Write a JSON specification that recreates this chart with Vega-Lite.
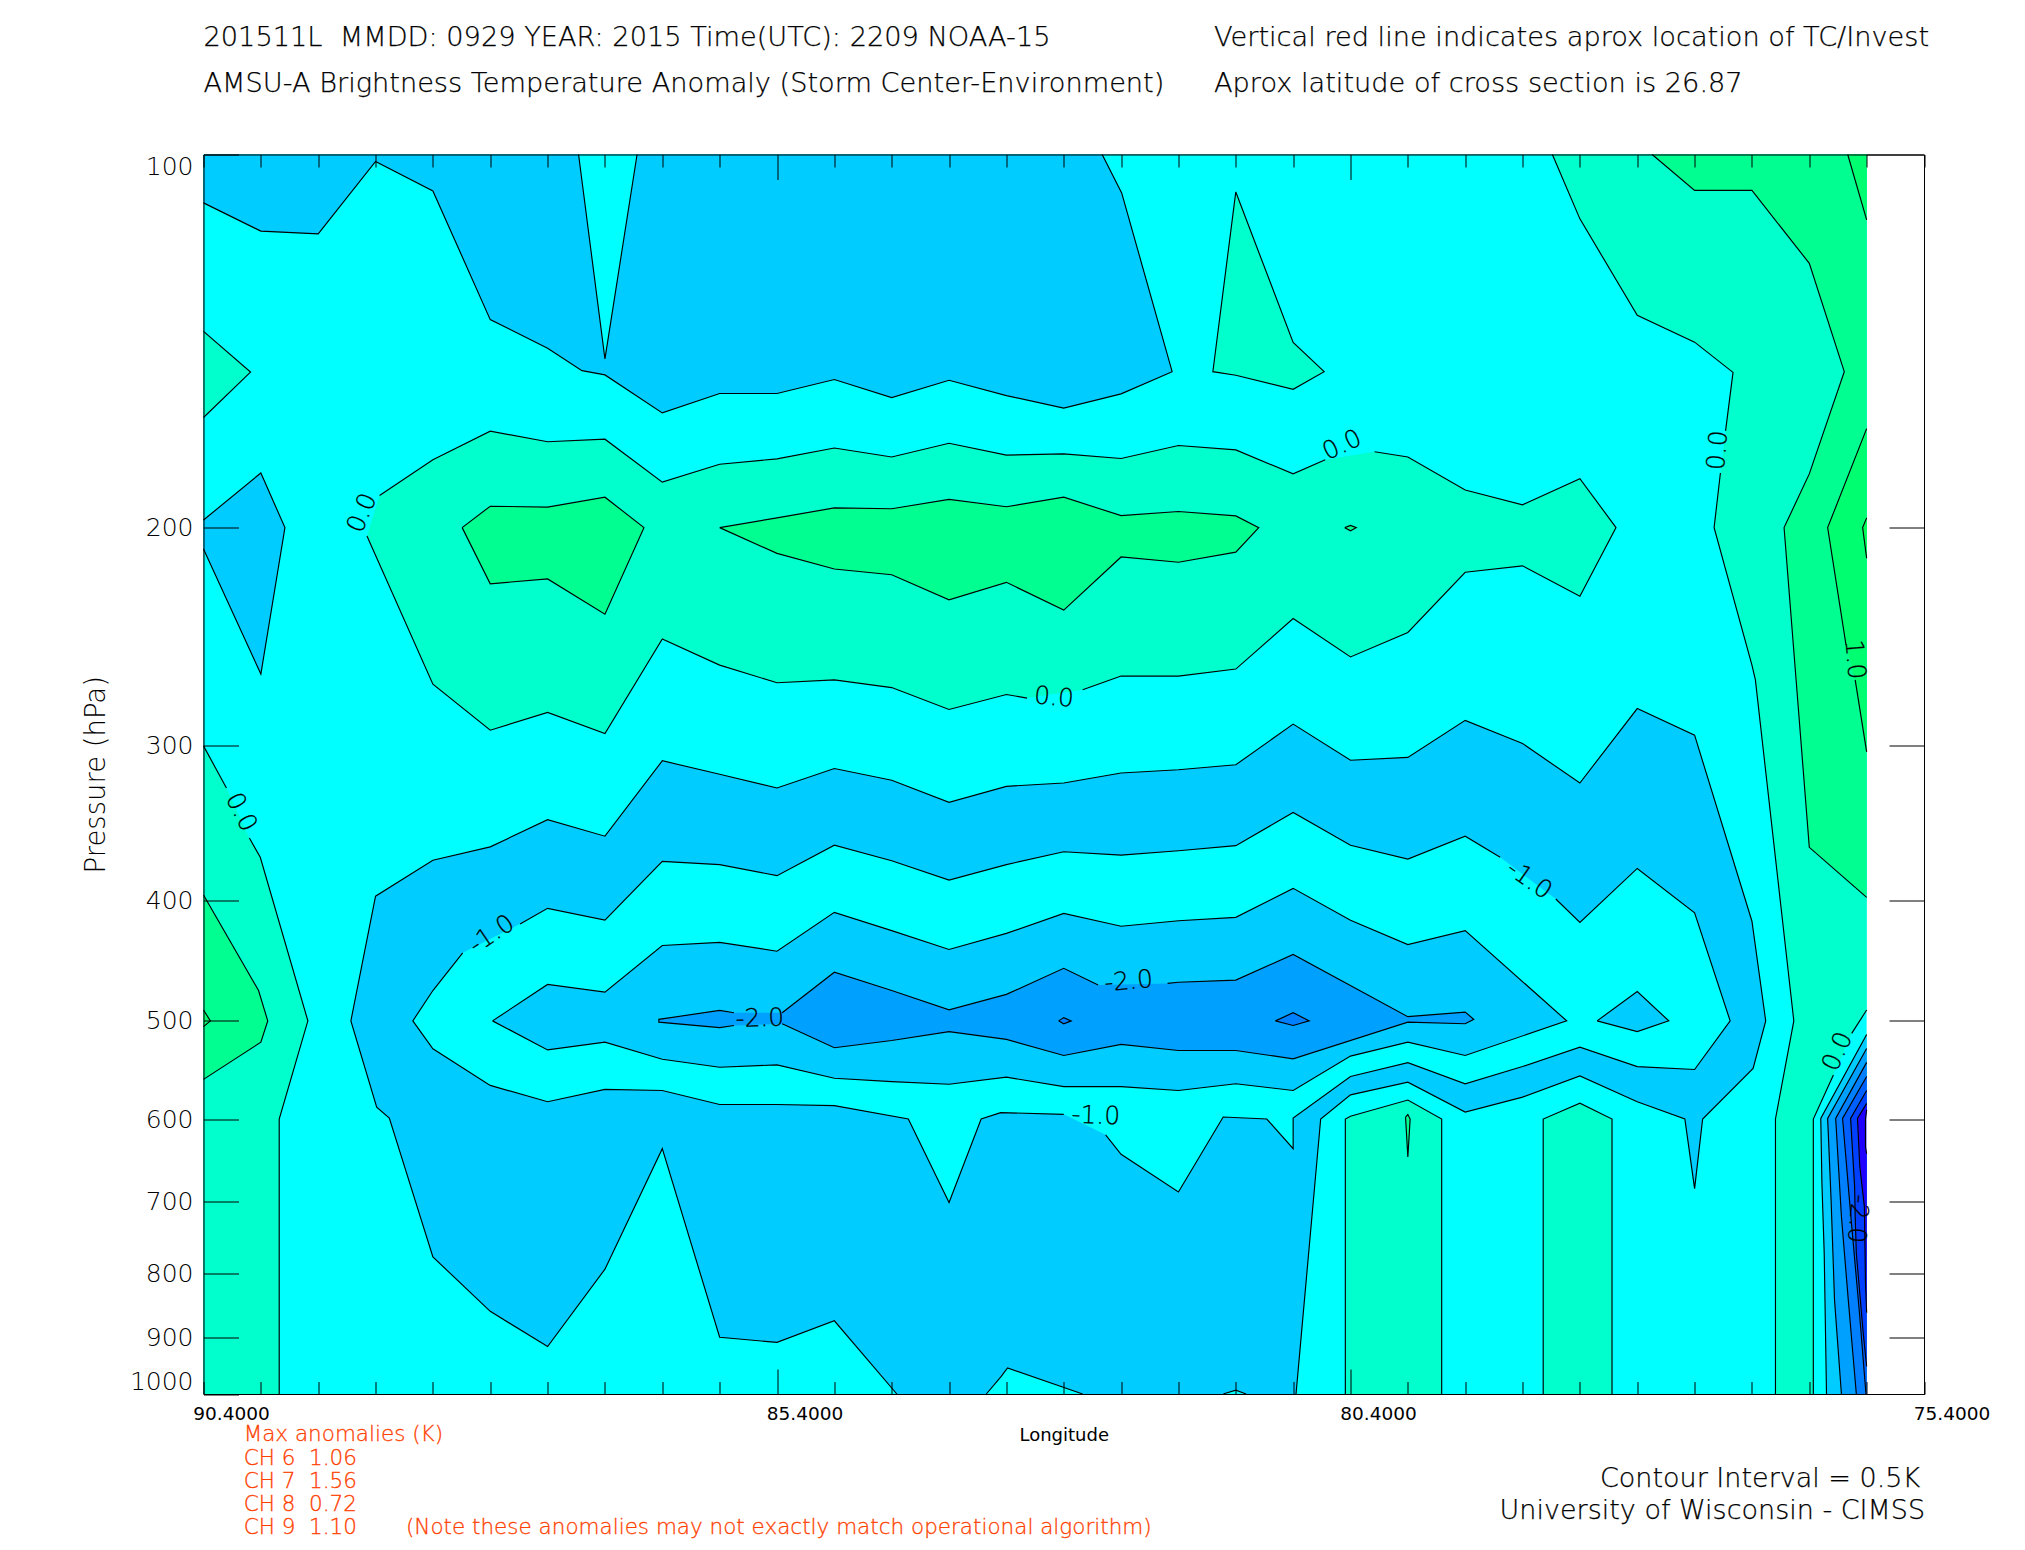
{"$schema":"https://vega.github.io/schema/vega-lite/v6.json","width":1720.5,"height":1239.5,"autosize":{"type":"none"},"padding":{"left":203.5,"top":154.5,"right":101,"bottom":156},"background":"white","config":{"view":{"stroke":"black","strokeWidth":1},"font":"DejaVu Sans"},
"datasets":{"contours":[
{"poly":"base","seg":null,"band":"cyan","lon":90.4,"p":100},{"poly":"base","seg":null,"band":"cyan","lon":75.9,"p":100},{"poly":"base","seg":null,"band":"cyan","lon":75.9,"p":1000},{"poly":"base","seg":null,"band":"cyan","lon":90.4,"p":1000},
{"poly":"L","seg":"L1","band":"mint","lon":90.4,"p":300},{"poly":"L","seg":"L1","band":"mint","lon":90.2,"p":324.4},{"poly":"L","seg":"L2","band":"mint","lon":90.0,"p":356},{"poly":"L","seg":"L2","band":"mint","lon":89.905,"p":369},{"poly":"L","seg":"L2","band":"mint","lon":89.49,"p":500},{"poly":"L","seg":"L2","band":"mint","lon":89.74,"p":600},{"poly":"L","seg":"L2","band":"mint","lon":89.74,"p":1000},{"poly":"L","seg":null,"band":"mint","lon":90.4,"p":1000},
{"poly":"M","seg":"M","band":"spring","lon":90.4,"p":395.8},{"poly":"M","seg":"M","band":"spring","lon":89.92,"p":472.6},{"poly":"M","seg":"M","band":"spring","lon":89.84,"p":500},{"poly":"M","seg":"M","band":"spring","lon":89.9,"p":520.2},{"poly":"M","seg":"M","band":"spring","lon":90.4,"p":557.4},
{"poly":"M2","seg":"M2","band":"green","lon":90.4,"p":490},{"poly":"M2","seg":"M2","band":"green","lon":90.34,"p":500},{"poly":"M2","seg":"M2","band":"green","lon":90.4,"p":505.4},
{"poly":"B","seg":"B","band":"mint","lon":90.4,"p":138.9},{"poly":"B","seg":"B","band":"mint","lon":89.99,"p":149.8},{"poly":"B","seg":"B","band":"mint","lon":90.4,"p":163},
{"poly":"D","seg":"D1","band":"mint","lon":88.865,"p":188.4},{"poly":"D","seg":"D1","band":"mint","lon":88.4,"p":176.3},{"poly":"D","seg":"D1","band":"mint","lon":87.9,"p":167.2},{"poly":"D","seg":"D1","band":"mint","lon":87.4,"p":170.5},{"poly":"D","seg":"D1","band":"mint","lon":86.9,"p":169.7},{"poly":"D","seg":"D1","band":"mint","lon":86.4,"p":183.8},{"poly":"D","seg":"D1","band":"mint","lon":85.9,"p":177.8},{"poly":"D","seg":"D1","band":"mint","lon":85.4,"p":176},{"poly":"D","seg":"D1","band":"mint","lon":84.9,"p":172.5},{"poly":"D","seg":"D1","band":"mint","lon":84.4,"p":175.4},{"poly":"D","seg":"D1","band":"mint","lon":83.9,"p":171},{"poly":"D","seg":"D1","band":"mint","lon":83.4,"p":174.8},{"poly":"D","seg":"D1","band":"mint","lon":82.9,"p":174.4},{"poly":"D","seg":"D1","band":"mint","lon":82.4,"p":175.9},{"poly":"D","seg":"D1","band":"mint","lon":81.9,"p":171.7},{"poly":"D","seg":"D1","band":"mint","lon":81.4,"p":173.1},{"poly":"D","seg":"D1","band":"mint","lon":80.9,"p":181},{"poly":"D","seg":"D1","band":"mint","lon":80.62,"p":176.3},
{"poly":"D","seg":"D2","band":"mint","lon":80.19,"p":173.7},{"poly":"D","seg":"D2","band":"mint","lon":79.9,"p":175.4},{"poly":"D","seg":"D2","band":"mint","lon":79.4,"p":186.5},{"poly":"D","seg":"D2","band":"mint","lon":78.9,"p":191.7},{"poly":"D","seg":"D2","band":"mint","lon":78.4,"p":182.6},{"poly":"D","seg":"D2","band":"mint","lon":78.085,"p":200},{"poly":"D","seg":"D2","band":"mint","lon":78.4,"p":227.2},{"poly":"D","seg":"D2","band":"mint","lon":78.9,"p":214.7},{"poly":"D","seg":"D2","band":"mint","lon":79.4,"p":217.3},{"poly":"D","seg":"D2","band":"mint","lon":79.9,"p":243},{"poly":"D","seg":"D2","band":"mint","lon":80.4,"p":254.3},{"poly":"D","seg":"D2","band":"mint","lon":80.9,"p":236.8},{"poly":"D","seg":"D2","band":"mint","lon":81.4,"p":260.1},{"poly":"D","seg":"D2","band":"mint","lon":81.9,"p":263.5},{"poly":"D","seg":"D2","band":"mint","lon":82.4,"p":263.5},{"poly":"D","seg":"D2","band":"mint","lon":82.735,"p":270.3},
{"poly":"D","seg":"D3","band":"mint","lon":83.22,"p":274.5},{"poly":"D","seg":"D3","band":"mint","lon":83.4,"p":272.7},{"poly":"D","seg":"D3","band":"mint","lon":83.9,"p":280.4},{"poly":"D","seg":"D3","band":"mint","lon":84.4,"p":269.2},{"poly":"D","seg":"D3","band":"mint","lon":84.9,"p":265.4},{"poly":"D","seg":"D3","band":"mint","lon":85.4,"p":266.8},{"poly":"D","seg":"D3","band":"mint","lon":85.9,"p":258.2},{"poly":"D","seg":"D3","band":"mint","lon":86.4,"p":246},{"poly":"D","seg":"D3","band":"mint","lon":86.9,"p":293.2},{"poly":"D","seg":"D3","band":"mint","lon":87.4,"p":281.9},{"poly":"D","seg":"D3","band":"mint","lon":87.9,"p":291.4},{"poly":"D","seg":"D3","band":"mint","lon":88.4,"p":267.5},{"poly":"D","seg":"D3","band":"mint","lon":88.975,"p":203.1},
{"poly":"E","seg":"E","band":"spring","lon":88.145,"p":200},{"poly":"E","seg":"E","band":"spring","lon":87.9,"p":192.2},{"poly":"E","seg":"E","band":"spring","lon":87.4,"p":192.5},{"poly":"E","seg":"E","band":"spring","lon":86.9,"p":189},{"poly":"E","seg":"E","band":"spring","lon":86.56,"p":200},{"poly":"E","seg":"E","band":"spring","lon":86.9,"p":234.9},{"poly":"E","seg":"E","band":"spring","lon":87.4,"p":220},{"poly":"E","seg":"E","band":"spring","lon":87.9,"p":222},{"poly":"E","seg":"E","band":"spring","lon":88.145,"p":200},
{"poly":"F","seg":"F","band":"spring","lon":85.9,"p":200},{"poly":"F","seg":"F","band":"spring","lon":85.4,"p":196.4},{"poly":"F","seg":"F","band":"spring","lon":84.9,"p":192.8},{"poly":"F","seg":"F","band":"spring","lon":84.4,"p":193.1},{"poly":"F","seg":"F","band":"spring","lon":83.9,"p":189.8},{"poly":"F","seg":"F","band":"spring","lon":83.4,"p":192.4},{"poly":"F","seg":"F","band":"spring","lon":82.9,"p":189},{"poly":"F","seg":"F","band":"spring","lon":82.4,"p":195.6},{"poly":"F","seg":"F","band":"spring","lon":81.9,"p":194.1},{"poly":"F","seg":"F","band":"spring","lon":81.4,"p":195.7},{"poly":"F","seg":"F","band":"spring","lon":81.2,"p":200},{"poly":"F","seg":"F","band":"spring","lon":81.4,"p":209.3},{"poly":"F","seg":"F","band":"spring","lon":81.9,"p":213.3},{"poly":"F","seg":"F","band":"spring","lon":82.4,"p":211.2},{"poly":"F","seg":"F","band":"spring","lon":82.9,"p":233.1},{"poly":"F","seg":"F","band":"spring","lon":83.4,"p":221.4},{"poly":"F","seg":"F","band":"spring","lon":83.9,"p":228.7},{"poly":"F","seg":"F","band":"spring","lon":84.4,"p":218.3},{"poly":"F","seg":"F","band":"spring","lon":84.9,"p":216},{"poly":"F","seg":"F","band":"spring","lon":85.4,"p":209.8},{"poly":"F","seg":"F","band":"spring","lon":85.9,"p":200},
{"poly":"G","seg":"G","band":"spring","lon":80.45,"p":200},{"poly":"G","seg":"G","band":"spring","lon":80.4,"p":199.2},{"poly":"G","seg":"G","band":"spring","lon":80.35,"p":200},{"poly":"G","seg":"G","band":"spring","lon":80.4,"p":201.2},{"poly":"G","seg":"G","band":"spring","lon":80.45,"p":200},
{"poly":"H","seg":"H","band":"mint","lon":81.4,"p":107.2},{"poly":"H","seg":"H","band":"mint","lon":80.9,"p":141.8},{"poly":"H","seg":"H","band":"mint","lon":80.63,"p":149.7},{"poly":"H","seg":"H","band":"mint","lon":80.9,"p":154.7},{"poly":"H","seg":"H","band":"mint","lon":81.4,"p":150.7},{"poly":"H","seg":"H","band":"mint","lon":81.6,"p":149.7},{"poly":"H","seg":"H","band":"mint","lon":81.4,"p":107.2},
{"poly":"I","seg":"I1","band":"mint","lon":78.64,"p":100},{"poly":"I","seg":"I1","band":"mint","lon":78.4,"p":112.7},{"poly":"I","seg":"I1","band":"mint","lon":77.9,"p":134.8},{"poly":"I","seg":"I1","band":"mint","lon":77.4,"p":141.7},{"poly":"I","seg":"I1","band":"mint","lon":77.065,"p":149.9},{"poly":"I","seg":"I1","band":"mint","lon":77.13,"p":167.1},{"poly":"I","seg":"I2","band":"mint","lon":77.175,"p":180.7},{"poly":"I","seg":"I2","band":"mint","lon":77.23,"p":200},{"poly":"I","seg":"I2","band":"mint","lon":76.9,"p":258.2},{"poly":"I","seg":"I2","band":"mint","lon":76.87,"p":265.4},{"poly":"I","seg":"I2","band":"mint","lon":76.535,"p":500},{"poly":"I","seg":"I2","band":"mint","lon":76.695,"p":600},{"poly":"I","seg":"I2","band":"mint","lon":76.695,"p":1000},{"poly":"I","seg":"I3","band":"mint","lon":76.365,"p":1000},{"poly":"I","seg":"I3","band":"mint","lon":76.365,"p":600},{"poly":"I","seg":"I3","band":"mint","lon":76.19,"p":553},{"poly":"I","seg":"I4","band":"mint","lon":76.03,"p":511.8},{"poly":"I","seg":"I4","band":"mint","lon":75.9,"p":490},{"poly":"I","seg":null,"band":"mint","lon":75.9,"p":100},
{"poly":"J","seg":"J","band":"spring","lon":77.77,"p":100},{"poly":"J","seg":"J","band":"spring","lon":77.4,"p":106.9},{"poly":"J","seg":"J","band":"spring","lon":76.9,"p":106.9},{"poly":"J","seg":"J","band":"spring","lon":76.4,"p":122.4},{"poly":"J","seg":"J","band":"spring","lon":76.095,"p":149.7},{"poly":"J","seg":"J","band":"spring","lon":76.4,"p":181},{"poly":"J","seg":"J","band":"spring","lon":76.62,"p":200},{"poly":"J","seg":"J","band":"spring","lon":76.515,"p":265.4},{"poly":"J","seg":"J","band":"spring","lon":76.4,"p":362.2},{"poly":"J","seg":"J","band":"spring","lon":75.9,"p":397.5},{"poly":"J","seg":null,"band":"spring","lon":75.9,"p":100},
{"poly":"K1","seg":"K1","band":"green","lon":76.065,"p":100},{"poly":"K1","seg":"K1","band":"green","lon":75.9,"p":112.9},{"poly":"K1","seg":null,"band":"green","lon":75.9,"p":100},
{"poly":"K2","seg":"K2a","band":"green","lon":75.9,"p":166.4},{"poly":"K2","seg":"K2a","band":"green","lon":76.24,"p":200},{"poly":"K2","seg":"K2a","band":"green","lon":76.08,"p":248.7},{"poly":"K2","seg":"K2b","band":"green","lon":76.0,"p":265.4},{"poly":"K2","seg":"K2b","band":"green","lon":75.9,"p":303.4},
{"poly":"K3","seg":"K3","band":"lime","lon":75.9,"p":196.4},{"poly":"K3","seg":"K3","band":"lime","lon":75.935,"p":200},{"poly":"K3","seg":"K3","band":"lime","lon":75.9,"p":211.7},
{"poly":"A","seg":"A","band":"sky","lon":90.4,"p":109.4},{"poly":"A","seg":"A","band":"sky","lon":89.9,"p":115.3},{"poly":"A","seg":"A","band":"sky","lon":89.4,"p":115.9},{"poly":"A","seg":"A","band":"sky","lon":88.9,"p":101.3},{"poly":"A","seg":"A","band":"sky","lon":88.4,"p":107},{"poly":"A","seg":"A","band":"sky","lon":87.9,"p":135.9},{"poly":"A","seg":"A","band":"sky","lon":87.4,"p":143.3},{"poly":"A","seg":"A","band":"sky","lon":87.1,"p":149.4},{"poly":"A","seg":"A","band":"sky","lon":86.9,"p":150.6},{"poly":"A","seg":"A","band":"sky","lon":86.4,"p":161.6},{"poly":"A","seg":"A","band":"sky","lon":85.9,"p":155.9},{"poly":"A","seg":"A","band":"sky","lon":85.4,"p":155.9},{"poly":"A","seg":"A","band":"sky","lon":84.9,"p":151.9},{"poly":"A","seg":"A","band":"sky","lon":84.4,"p":157.1},{"poly":"A","seg":"A","band":"sky","lon":83.9,"p":152.1},{"poly":"A","seg":"A","band":"sky","lon":83.4,"p":156.5},{"poly":"A","seg":"A","band":"sky","lon":82.9,"p":160.2},{"poly":"A","seg":"A","band":"sky","lon":82.4,"p":156},{"poly":"A","seg":"A","band":"sky","lon":81.955,"p":149.7},{"poly":"A","seg":"A","band":"sky","lon":82.395,"p":107.4},{"poly":"A","seg":"A","band":"sky","lon":82.565,"p":100},{"poly":"A","seg":null,"band":"sky","lon":90.4,"p":100},
{"poly":"notch","seg":"notch","band":"cyan","lon":86.62,"p":100},{"poly":"notch","seg":"notch","band":"cyan","lon":86.9,"p":146.2},{"poly":"notch","seg":"notch","band":"cyan","lon":87.13,"p":100},
{"poly":"C","seg":"C","band":"sky","lon":90.4,"p":197.2},{"poly":"C","seg":"C","band":"sky","lon":89.9,"p":180.7},{"poly":"C","seg":"C","band":"sky","lon":89.69,"p":200},{"poly":"C","seg":"C","band":"sky","lon":89.9,"p":262.5},{"poly":"C","seg":"C","band":"sky","lon":90.4,"p":208.1},
{"poly":"N","seg":"N","band":"sky","lon":84.355,"p":1000},{"poly":"N","seg":"N","band":"sky","lon":84.9,"p":872.8},{"poly":"N","seg":"N","band":"sky","lon":85.4,"p":908.6},{"poly":"N","seg":"N","band":"sky","lon":85.9,"p":900},{"poly":"N","seg":"N","band":"sky","lon":86.4,"p":634},{"poly":"N","seg":"N","band":"sky","lon":86.9,"p":793},{"poly":"N","seg":"N","band":"sky","lon":87.4,"p":915.7},{"poly":"N","seg":"N","band":"sky","lon":87.9,"p":857.6},{"poly":"N","seg":"N","band":"sky","lon":88.4,"p":775.2},{"poly":"N","seg":"N","band":"sky","lon":88.78,"p":599},{"poly":"N","seg":"N","band":"sky","lon":88.89,"p":586.9},{"poly":"N","seg":"N","band":"sky","lon":89.115,"p":500},{"poly":"N","seg":"N","band":"sky","lon":88.9,"p":396.6},{"poly":"N","seg":"N","band":"sky","lon":88.4,"p":371},{"poly":"N","seg":"N","band":"sky","lon":87.9,"p":361.9},{"poly":"N","seg":"N","band":"sky","lon":87.4,"p":344.1},{"poly":"N","seg":"N","band":"sky","lon":86.9,"p":354.8},{"poly":"N","seg":"N","band":"sky","lon":86.4,"p":308.4},{"poly":"N","seg":"N","band":"sky","lon":85.9,"p":316.2},{"poly":"N","seg":"N","band":"sky","lon":85.4,"p":324.4},{"poly":"N","seg":"N","band":"sky","lon":84.9,"p":312.9},{"poly":"N","seg":"N","band":"sky","lon":84.4,"p":319.8},{"poly":"N","seg":"N","band":"sky","lon":83.9,"p":333.2},{"poly":"N","seg":"N","band":"sky","lon":83.4,"p":323.4},{"poly":"N","seg":"N","band":"sky","lon":82.9,"p":321.4},{"poly":"N","seg":"N","band":"sky","lon":82.4,"p":315.5},{"poly":"N","seg":"N","band":"sky","lon":81.9,"p":313.6},{"poly":"N","seg":"N","band":"sky","lon":81.4,"p":310.7},{"poly":"N","seg":"N","band":"sky","lon":80.9,"p":288.1},{"poly":"N","seg":"N","band":"sky","lon":80.4,"p":308.1},{"poly":"N","seg":"N","band":"sky","lon":79.9,"p":306.5},{"poly":"N","seg":"N","band":"sky","lon":79.4,"p":286.1},{"poly":"N","seg":"N","band":"sky","lon":78.9,"p":298.7},{"poly":"N","seg":"N","band":"sky","lon":78.4,"p":321.4},{"poly":"N","seg":"N","band":"sky","lon":77.9,"p":279.9},{"poly":"N","seg":"N","band":"sky","lon":77.4,"p":294.1},{"poly":"N","seg":"N","band":"sky","lon":76.9,"p":415.5},{"poly":"N","seg":"N","band":"sky","lon":76.78,"p":500},{"poly":"N","seg":"N","band":"sky","lon":76.89,"p":546.2},{"poly":"N","seg":"N","band":"sky","lon":77.33,"p":600},{"poly":"N","seg":"N","band":"sky","lon":77.4,"p":682.9},{"poly":"N","seg":"N","band":"sky","lon":77.485,"p":600},{"poly":"N","seg":"N","band":"sky","lon":77.9,"p":581},{"poly":"N","seg":"N","band":"sky","lon":78.4,"p":553.9},{"poly":"N","seg":"N","band":"sky","lon":78.9,"p":576.1},{"poly":"N","seg":"N","band":"sky","lon":79.4,"p":592.3},{"poly":"N","seg":"N","band":"sky","lon":79.9,"p":560.3},{"poly":"N","seg":"N","band":"sky","lon":80.4,"p":573.7},{"poly":"N","seg":"N","band":"sky","lon":80.66,"p":600},{"poly":"N","seg":"N","band":"sky","lon":80.875,"p":1000},
{"poly":"lump","seg":"lump","band":"cyan","lon":83.575,"p":1000},{"poly":"lump","seg":"lump","band":"cyan","lon":83.445,"p":967.6},{"poly":"lump","seg":"lump","band":"cyan","lon":83.39,"p":952.7},{"poly":"lump","seg":"lump","band":"cyan","lon":82.735,"p":1000},
{"poly":"lump2","seg":"lump2","band":"cyan","lon":81.51,"p":1000},{"poly":"lump2","seg":"lump2","band":"cyan","lon":81.4,"p":992.8},{"poly":"lump2","seg":"lump2","band":"cyan","lon":81.31,"p":1000},
{"poly":"O","seg":"O1","band":"cyan","lon":87.64,"p":417.6},{"poly":"O","seg":"O1","band":"cyan","lon":87.4,"p":405.7},{"poly":"O","seg":"O1","band":"cyan","lon":86.9,"p":414.7},{"poly":"O","seg":"O1","band":"cyan","lon":86.4,"p":371.8},{"poly":"O","seg":"O1","band":"cyan","lon":85.9,"p":374},{"poly":"O","seg":"O1","band":"cyan","lon":85.4,"p":381.8},{"poly":"O","seg":"O1","band":"cyan","lon":84.9,"p":360.8},{"poly":"O","seg":"O1","band":"cyan","lon":84.4,"p":371.4},{"poly":"O","seg":"O1","band":"cyan","lon":83.9,"p":384.9},{"poly":"O","seg":"O1","band":"cyan","lon":83.4,"p":374},{"poly":"O","seg":"O1","band":"cyan","lon":82.9,"p":365.2},{"poly":"O","seg":"O1","band":"cyan","lon":82.4,"p":367.5},{"poly":"O","seg":"O1","band":"cyan","lon":81.9,"p":364.5},{"poly":"O","seg":"O1","band":"cyan","lon":81.4,"p":361.1},{"poly":"O","seg":"O1","band":"cyan","lon":80.9,"p":339.5},{"poly":"O","seg":"O1","band":"cyan","lon":80.4,"p":360.8},{"poly":"O","seg":"O1","band":"cyan","lon":79.9,"p":370.2},{"poly":"O","seg":"O1","band":"cyan","lon":79.4,"p":354.8},{"poly":"O","seg":"O1","band":"cyan","lon":79.095,"p":369},
{"poly":"O","seg":"O2","band":"cyan","lon":78.61,"p":398.7},{"poly":"O","seg":"O2","band":"cyan","lon":78.4,"p":416.4},{"poly":"O","seg":"O2","band":"cyan","lon":77.9,"p":376.7},{"poly":"O","seg":"O2","band":"cyan","lon":77.4,"p":409.1},{"poly":"O","seg":"O2","band":"cyan","lon":77.09,"p":500},{"poly":"O","seg":"O2","band":"cyan","lon":77.4,"p":547.3},{"poly":"O","seg":"O2","band":"cyan","lon":77.9,"p":544.3},{"poly":"O","seg":"O2","band":"cyan","lon":78.4,"p":525},{"poly":"O","seg":"O2","band":"cyan","lon":78.9,"p":544.3},{"poly":"O","seg":"O2","band":"cyan","lon":79.4,"p":562},{"poly":"O","seg":"O2","band":"cyan","lon":79.9,"p":540.4},{"poly":"O","seg":"O2","band":"cyan","lon":80.4,"p":554.5},{"poly":"O","seg":"O2","band":"cyan","lon":80.9,"p":599},{"poly":"O","seg":"O2","band":"cyan","lon":80.9,"p":634},{"poly":"O","seg":"O2","band":"cyan","lon":81.13,"p":600},{"poly":"O","seg":"O2","band":"cyan","lon":81.51,"p":597.8},{"poly":"O","seg":"O2","band":"cyan","lon":81.9,"p":687.1},{"poly":"O","seg":"O2","band":"cyan","lon":82.4,"p":640.6},{"poly":"O","seg":"O2","band":"cyan","lon":82.535,"p":617.9},
{"poly":"O","seg":"O3","band":"cyan","lon":82.9,"p":594.8},{"poly":"O","seg":"O3","band":"cyan","lon":83.45,"p":592.9},{"poly":"O","seg":"O3","band":"cyan","lon":83.62,"p":600},{"poly":"O","seg":"O3","band":"cyan","lon":83.9,"p":700.6},{"poly":"O","seg":"O3","band":"cyan","lon":84.255,"p":600},{"poly":"O","seg":"O3","band":"cyan","lon":84.9,"p":585.2},{"poly":"O","seg":"O3","band":"cyan","lon":85.4,"p":584},{"poly":"O","seg":"O3","band":"cyan","lon":85.9,"p":584},{"poly":"O","seg":"O3","band":"cyan","lon":86.4,"p":569},{"poly":"O","seg":"O3","band":"cyan","lon":86.9,"p":567.8},{"poly":"O","seg":"O3","band":"cyan","lon":87.4,"p":581},{"poly":"O","seg":"O3","band":"cyan","lon":87.9,"p":563.7},{"poly":"O","seg":"O3","band":"cyan","lon":88.4,"p":526.6},{"poly":"O","seg":"O3","band":"cyan","lon":88.575,"p":500},{"poly":"O","seg":"O3","band":"cyan","lon":88.4,"p":472.6},{"poly":"O","seg":"O3","band":"cyan","lon":88.14,"p":440.6},
{"poly":"W","seg":"W","band":"sky","lon":78.25,"p":500},{"poly":"W","seg":"W","band":"sky","lon":77.9,"p":473.5},{"poly":"W","seg":"W","band":"sky","lon":77.625,"p":500},{"poly":"W","seg":"W","band":"sky","lon":77.9,"p":510.1},{"poly":"W","seg":"W","band":"sky","lon":78.25,"p":500},
{"poly":"P","seg":"P","band":"sky","lon":87.88,"p":500},{"poly":"P","seg":"P","band":"sky","lon":87.4,"p":467.3},{"poly":"P","seg":"P","band":"sky","lon":86.9,"p":474},{"poly":"P","seg":"P","band":"sky","lon":86.4,"p":434.7},{"poly":"P","seg":"P","band":"sky","lon":85.9,"p":432.1},{"poly":"P","seg":"P","band":"sky","lon":85.4,"p":439.3},{"poly":"P","seg":"P","band":"sky","lon":84.9,"p":408.7},{"poly":"P","seg":"P","band":"sky","lon":84.4,"p":422.8},{"poly":"P","seg":"P","band":"sky","lon":83.9,"p":437.9},{"poly":"P","seg":"P","band":"sky","lon":83.4,"p":425},{"poly":"P","seg":"P","band":"sky","lon":82.9,"p":409.5},{"poly":"P","seg":"P","band":"sky","lon":82.4,"p":419.4},{"poly":"P","seg":"P","band":"sky","lon":81.9,"p":415.1},{"poly":"P","seg":"P","band":"sky","lon":81.4,"p":412.5},{"poly":"P","seg":"P","band":"sky","lon":80.9,"p":390.9},{"poly":"P","seg":"P","band":"sky","lon":80.4,"p":414.7},{"poly":"P","seg":"P","band":"sky","lon":79.9,"p":433.9},{"poly":"P","seg":"P","band":"sky","lon":79.4,"p":422.8},{"poly":"P","seg":"P","band":"sky","lon":78.515,"p":500},{"poly":"P","seg":"P","band":"sky","lon":79.4,"p":533.2},{"poly":"P","seg":"P","band":"sky","lon":79.9,"p":520.2},{"poly":"P","seg":"P","band":"sky","lon":80.4,"p":533.8},{"poly":"P","seg":"P","band":"sky","lon":80.9,"p":569},{"poly":"P","seg":"P","band":"sky","lon":81.4,"p":562},{"poly":"P","seg":"P","band":"sky","lon":81.9,"p":569},{"poly":"P","seg":"P","band":"sky","lon":82.4,"p":564.9},{"poly":"P","seg":"P","band":"sky","lon":82.9,"p":564.9},{"poly":"P","seg":"P","band":"sky","lon":83.4,"p":555.1},{"poly":"P","seg":"P","band":"sky","lon":83.9,"p":562.5},{"poly":"P","seg":"P","band":"sky","lon":84.4,"p":559.7},{"poly":"P","seg":"P","band":"sky","lon":84.9,"p":556.2},{"poly":"P","seg":"P","band":"sky","lon":85.4,"p":542.6},{"poly":"P","seg":"P","band":"sky","lon":85.9,"p":545},{"poly":"P","seg":"P","band":"sky","lon":86.4,"p":537},{"poly":"P","seg":"P","band":"sky","lon":86.9,"p":520.2},{"poly":"P","seg":"P","band":"sky","lon":87.4,"p":527.7},{"poly":"P","seg":"P","band":"sky","lon":87.88,"p":500},
{"poly":"Q","seg":"Q1","band":"azure","lon":85.355,"p":492.5},{"poly":"Q","seg":"Q1","band":"azure","lon":84.9,"p":456.8},{"poly":"Q","seg":"Q1","band":"azure","lon":84.4,"p":472.6},{"poly":"Q","seg":"Q1","band":"azure","lon":83.9,"p":489.9},{"poly":"Q","seg":"Q1","band":"azure","lon":83.4,"p":476},{"poly":"Q","seg":"Q1","band":"azure","lon":82.9,"p":453.5},{"poly":"Q","seg":"Q1","band":"azure","lon":82.6,"p":467.8},
{"poly":"Q","seg":"Q2","band":"azure","lon":81.995,"p":466.4},{"poly":"Q","seg":"Q2","band":"azure","lon":81.9,"p":465.4},{"poly":"Q","seg":"Q2","band":"azure","lon":81.4,"p":463.5},{"poly":"Q","seg":"Q2","band":"azure","lon":80.9,"p":442},{"poly":"Q","seg":"Q2","band":"azure","lon":79.9,"p":496.1},{"poly":"Q","seg":"Q2","band":"azure","lon":79.4,"p":491.9},{"poly":"Q","seg":"Q2","band":"azure","lon":79.325,"p":498.6},{"poly":"Q","seg":"Q2","band":"azure","lon":79.4,"p":502.7},{"poly":"Q","seg":"Q2","band":"azure","lon":79.9,"p":501.2},{"poly":"Q","seg":"Q2","band":"azure","lon":80.9,"p":536.5},{"poly":"Q","seg":"Q2","band":"azure","lon":81.4,"p":528.3},{"poly":"Q","seg":"Q2","band":"azure","lon":81.9,"p":528.3},{"poly":"Q","seg":"Q2","band":"azure","lon":82.4,"p":522.3},{"poly":"Q","seg":"Q2","band":"azure","lon":82.9,"p":533.2},{"poly":"Q","seg":"Q2","band":"azure","lon":83.4,"p":517.5},{"poly":"Q","seg":"Q2","band":"azure","lon":83.9,"p":510.1},{"poly":"Q","seg":"Q2","band":"azure","lon":84.4,"p":518.6},{"poly":"Q","seg":"Q2","band":"azure","lon":84.9,"p":525.6},{"poly":"Q","seg":"Q2","band":"azure","lon":85.355,"p":502.7},
{"poly":"Q","seg":"Q3","band":"azure","lon":85.775,"p":504.3},{"poly":"Q","seg":"Q3","band":"azure","lon":85.9,"p":506.3},{"poly":"Q","seg":"Q3","band":"azure","lon":86.43,"p":501.2},{"poly":"Q","seg":"Q3","band":"azure","lon":86.43,"p":498.6},{"poly":"Q","seg":"Q3","band":"azure","lon":85.9,"p":490.4},{"poly":"Q","seg":"Q3","band":"azure","lon":85.775,"p":492.5},
{"poly":"R1","seg":"R1","band":"blue1","lon":81.055,"p":500},{"poly":"R1","seg":"R1","band":"blue1","lon":80.9,"p":492.5},{"poly":"R1","seg":"R1","band":"blue1","lon":80.76,"p":500},{"poly":"R1","seg":"R1","band":"blue1","lon":80.9,"p":504.3},{"poly":"R1","seg":"R1","band":"blue1","lon":81.055,"p":500},
{"poly":"R2","seg":"R2","band":"blue1","lon":82.945,"p":500},{"poly":"R2","seg":"R2","band":"blue1","lon":82.9,"p":497},{"poly":"R2","seg":"R2","band":"blue1","lon":82.835,"p":500},{"poly":"R2","seg":"R2","band":"blue1","lon":82.9,"p":502.7},{"poly":"R2","seg":"R2","band":"blue1","lon":82.945,"p":500},
{"poly":"S","seg":"S","band":"mint","lon":80.445,"p":1000},{"poly":"S","seg":"S","band":"mint","lon":80.445,"p":600},{"poly":"S","seg":"S","band":"mint","lon":80.4,"p":597},{"poly":"S","seg":"S","band":"mint","lon":79.9,"p":579.2},{"poly":"S","seg":"S","band":"mint","lon":79.605,"p":600},{"poly":"S","seg":"S","band":"mint","lon":79.605,"p":1000},
{"poly":"S2","seg":"S2","band":"spring","lon":79.92,"p":598},{"poly":"S2","seg":"S2","band":"spring","lon":79.9,"p":595},{"poly":"S2","seg":"S2","band":"spring","lon":79.88,"p":600},{"poly":"S2","seg":"S2","band":"spring","lon":79.9,"p":643.9},{"poly":"S2","seg":"S2","band":"spring","lon":79.92,"p":598},
{"poly":"T","seg":"T","band":"mint","lon":78.72,"p":1000},{"poly":"T","seg":"T","band":"mint","lon":78.72,"p":600},{"poly":"T","seg":"T","band":"mint","lon":78.4,"p":582.6},{"poly":"T","seg":"T","band":"mint","lon":78.12,"p":600},{"poly":"T","seg":"T","band":"mint","lon":78.12,"p":1000},
{"poly":"U1","seg":"U1","band":"sky","lon":75.9,"p":512.8},{"poly":"U1","seg":"U1","band":"sky","lon":76.3,"p":599.3},{"poly":"U1","seg":"U1","band":"sky","lon":76.29,"p":676},{"poly":"U1","seg":"U1","band":"sky","lon":76.27,"p":770},{"poly":"U1","seg":"U1","band":"sky","lon":76.25,"p":1000},{"poly":"U1","seg":null,"band":"sky","lon":75.9,"p":1000},
{"poly":"U2","seg":"U2","band":"azure","lon":75.9,"p":526.3},{"poly":"U2","seg":"U2","band":"azure","lon":76.24,"p":599.3},{"poly":"U2","seg":"U2","band":"azure","lon":76.21,"p":697.5},{"poly":"U2","seg":"U2","band":"azure","lon":76.18,"p":840},{"poly":"U2","seg":"U2","band":"azure","lon":76.12,"p":1000},{"poly":"U2","seg":null,"band":"azure","lon":75.9,"p":1000},
{"poly":"U3","seg":"U3","band":"blue1","lon":75.9,"p":540.1},{"poly":"U3","seg":"U3","band":"blue1","lon":76.17,"p":599.3},{"poly":"U3","seg":"U3","band":"blue1","lon":76.12,"p":719},{"poly":"U3","seg":"U3","band":"blue1","lon":76.06,"p":840},{"poly":"U3","seg":"U3","band":"blue1","lon":75.99,"p":1000},{"poly":"U3","seg":null,"band":"blue1","lon":75.9,"p":1000},
{"poly":"U4","seg":"U4","band":"blue2","lon":75.9,"p":554.4},{"poly":"U4","seg":"U4","band":"blue2","lon":76.11,"p":599.3},{"poly":"U4","seg":"U4","band":"blue2","lon":76.04,"p":715},{"poly":"U4","seg":"U4","band":"blue2","lon":75.96,"p":866},{"poly":"U4","seg":"U4","band":"blue2","lon":75.906,"p":1000},{"poly":"U4","seg":null,"band":"blue2","lon":75.9,"p":1000},
{"poly":"U5","seg":"U5","band":"blue3","lon":75.9,"p":569},{"poly":"U5","seg":"U5","band":"blue3","lon":76.04,"p":599.3},{"poly":"U5","seg":"U5","band":"blue3","lon":76.005,"p":680},{"poly":"U5","seg":"U5","band":"blue3","lon":76.0,"p":719},{"poly":"U5","seg":"U5","band":"blue3","lon":75.99,"p":770},{"poly":"U5","seg":"U5","band":"blue3","lon":75.93,"p":893},{"poly":"U5","seg":"U5","band":"blue3","lon":75.9,"p":950},
{"poly":"U6","seg":"U6","band":"indigo","lon":75.9,"p":582.8},{"poly":"U6","seg":"U6","band":"indigo","lon":75.98,"p":599.3},{"poly":"U6","seg":"U6","band":"indigo","lon":75.96,"p":655},{"poly":"U6","seg":"U6","band":"indigo","lon":75.92,"p":706},{"poly":"U6","seg":"U6","band":"indigo","lon":75.91,"p":814},{"poly":"U6","seg":"U6","band":"indigo","lon":75.9,"p":860},
{"poly":"U7","seg":"U7","band":"white","lon":75.9,"p":590},{"poly":"U7","seg":"U7","band":"white","lon":75.91,"p":600},{"poly":"U7","seg":"U7","band":"white","lon":75.91,"p":632},{"poly":"U7","seg":"U7","band":"white","lon":75.9,"p":640}
],
"labels":[
{"label":"0.0","lon":89.02,"p":194.6,"angle":-67},{"label":"0.0","lon":80.475,"p":171.5,"angle":-25},{"label":"0.0","lon":77.2,"p":173.2,"angle":-85},{"label":"0.0","lon":82.985,"p":274,"angle":5},{"label":"0.0","lon":90.07,"p":339.2,"angle":63},{"label":"-1.0","lon":87.89,"p":425.5,"angle":-34},{"label":"-1.0","lon":78.84,"p":384.6,"angle":35},{"label":"-1.0","lon":82.62,"p":596,"angle":2},{"label":"-2.0","lon":82.335,"p":464.4,"angle":-5},{"label":"-2.0","lon":85.55,"p":497.6,"angle":-2},{"label":"0.0","lon":76.156,"p":529.2,"angle":-66},{"label":"1.0","lon":76.0,"p":255.6,"angle":85},{"label":"-2.0","lon":75.976,"p":722,"angle":95}
]},
"layer":[
{"data":{"name":"contours"},"mark":{"type":"line","strokeWidth":0,"stroke":"transparent"},"encoding":{
"x":{"field":"lon","type":"quantitative","scale":{"domain":[90.4,75.4],"nice":false,"zero":false},"axis":{"orient":"bottom","zindex":1,"values":[90.4,89.9,89.4,88.9,88.4,87.9,87.4,86.9,86.4,85.9,85.4,84.9,84.4,83.9,83.4,82.9,82.4,81.9,81.4,80.9,80.4,79.9,79.4,78.9,78.4,77.9,77.4,76.9,76.4,75.9,75.4],"grid":false,"tickColor":"black","tickWidth":1,"domainColor":"black","tickSize":{"condition":{"test":"abs(datum.value-85.4)<0.01||abs(datum.value-80.4)<0.01","value":-25},"value":-12.5},"labelExpr":"(abs(datum.value-90.4)<0.01||abs(datum.value-85.4)<0.01||abs(datum.value-80.4)<0.01||abs(datum.value-75.4)<0.01)?format(datum.value,'.4f'):''","labelOverlap":false,"labelBound":false,"labelFlush":false,"labelAlign":"center","labelOffset":27.5,"labelPadding":{"condition":{"test":"abs(datum.value-85.4)<0.01||abs(datum.value-80.4)<0.01","value":35.6},"value":23.1},"labelFontSize":18.5,"labelFontWeight":400,"labelColor":"black","labelFont":"DejaVu Sans","title":"Longitude","titleFontSize":18,"titleFontWeight":400,"titleColor":"black","titlePadding":3,"titleFont":"DejaVu Sans"}},
"y":{"field":"p","type":"quantitative","scale":{"type":"log","domain":[100,1000],"reverse":true,"nice":false},"axis":{"orient":"left","zindex":1,"values":[100,200,300,400,500,600,700,800,900,1000],"format":"d","grid":false,"tickColor":"black","tickWidth":1,"domainColor":"black","tickSize":-35,"labelOverlap":false,"labelFlush":true,"labelPadding":45.5,"labelFontSize":25,"labelFontWeight":200,"labelColor":"black","labelFont":"DejaVu Sans","title":"Pressure (hPa)","titleFontSize":27.5,"titleFontWeight":200,"titleColor":"black","titlePadding":19,"titleFont":"DejaVu Sans"}},
"order":{"value":null},
"detail":{"field":"poly"},
"fill":{"field":"band","type":"nominal","legend":null,"scale":{"domain":["cyan","mint","spring","green","lime","sky","azure","blue1","blue2","blue3","indigo","white"],"range":["#00FFFF","#00FFCC","#00FF90","#00FF70","#00FF55","#00CCFF","#00A0FF","#0080FF","#0060FF","#0040FF","#2000FF","#FFFFFF"]}}
}},
{"data":{"name":"contours"},"transform":[{"filter":"datum.seg != null"}],"mark":{"type":"line","stroke":"black","strokeWidth":1.15},"encoding":{
"x":{"field":"lon","type":"quantitative","scale":{"domain":[90.4,75.4],"nice":false,"zero":false},"axis":null},
"y":{"field":"p","type":"quantitative","scale":{"type":"log","domain":[100,1000],"reverse":true,"nice":false},"axis":null},
"order":{"value":null},"detail":{"field":"seg"}}},
{"data":{"name":"labels"},"mark":{"type":"text","font":"DejaVu Sans","fontWeight":200,"fontSize":25,"color":"black","align":"center","baseline":"middle","stroke":"black","strokeWidth":0.25},"encoding":{
"x":{"field":"lon","type":"quantitative","scale":{"domain":[90.4,75.4],"nice":false,"zero":false},"axis":null},
"y":{"field":"p","type":"quantitative","scale":{"type":"log","domain":[100,1000],"reverse":true,"nice":false},"axis":null},
"angle":{"field":"angle","type":"quantitative","scale":null},"text":{"field":"label"}}},
{"data":{"values":[{"label":"201511L\u00a0\u00a0MMDD: 0929 YEAR: 2015 Time(UTC): 2209 NOAA-15","lon":90.4,"p":80.47},{"label":"AMSU-A Brightness Temperature Anomaly (Storm Center-Environment)","lon":90.4,"p":87.7},{"label":"Vertical red line indicates aprox location of TC/Invest","lon":81.59,"p":80.47},{"label":"Aprox latitude of cross section is 26.87","lon":81.59,"p":87.7}]},"mark":{"type":"text","font":"DejaVu Sans","fontWeight":200,"fontSize":27.2,"color":"black","align":"left","baseline":"middle","stroke":"black","strokeWidth":0.25},"encoding":{
"x":{"field":"lon","type":"quantitative","scale":{"domain":[90.4,75.4],"nice":false,"zero":false},"axis":{"orient":"top","zindex":1,"values":[90.4,89.9,89.4,88.9,88.4,87.9,87.4,86.9,86.4,85.9,85.4,84.9,84.4,83.9,83.4,82.9,82.4,81.9,81.4,80.9,80.4,79.9,79.4,78.9,78.4,77.9,77.4,76.9,76.4,75.9,75.4],"grid":false,"labels":false,"title":null,"tickColor":"black","tickWidth":1,"domainColor":"black","tickSize":{"condition":{"test":"abs(datum.value-85.4)<0.01||abs(datum.value-80.4)<0.01","value":-25},"value":-12.5}}},
"y":{"field":"p","type":"quantitative","scale":{"type":"log","domain":[100,1000],"reverse":true,"nice":false},"axis":{"orient":"right","zindex":1,"values":[200,300,400,500,600,700,800,900],"grid":false,"labels":false,"title":null,"tickColor":"black","tickWidth":1,"domainColor":"black","tickSize":-35}},
"text":{"field":"label"}}},
{"data":{"values":[{"label":"Contour Interval = 0.5K","lon":78.225,"p":1171},{"label":"University of Wisconsin - CIMSS","lon":79.1,"p":1243}]},"mark":{"type":"text","font":"DejaVu Sans","fontWeight":200,"fontSize":27,"color":"black","align":"left","baseline":"middle","stroke":"black","strokeWidth":0.25},"encoding":{
"x":{"field":"lon","type":"quantitative","scale":{"domain":[90.4,75.4],"nice":false,"zero":false},"axis":null},
"y":{"field":"p","type":"quantitative","scale":{"type":"log","domain":[100,1000],"reverse":true,"nice":false},"axis":null},
"text":{"field":"label"}}},
{"data":{"values":[{"label":"Max anomalies (K)","lon":90.05,"p":1078.7},{"label":"CH 6\u00a0\u00a01.06","lon":90.05,"p":1127.5},{"label":"CH 7\u00a0\u00a01.56","lon":90.05,"p":1177.6},{"label":"CH 8\u00a0\u00a00.72","lon":90.05,"p":1229},{"label":"CH 9\u00a0\u00a01.10","lon":90.05,"p":1283},{"label":"(Note these anomalies may not exactly match operational algorithm)","lon":88.635,"p":1283}]},"mark":{"type":"text","font":"DejaVu Sans","fontWeight":200,"fontSize":21.5,"color":"#FF4000","align":"left","baseline":"middle","stroke":"#FF4000","strokeWidth":0.3},"encoding":{
"x":{"field":"lon","type":"quantitative","scale":{"domain":[90.4,75.4],"nice":false,"zero":false},"axis":null},
"y":{"field":"p","type":"quantitative","scale":{"type":"log","domain":[100,1000],"reverse":true,"nice":false},"axis":null},
"text":{"field":"label"}}}
],
"resolve":{"axis":{"x":"independent","y":"independent"}}}
